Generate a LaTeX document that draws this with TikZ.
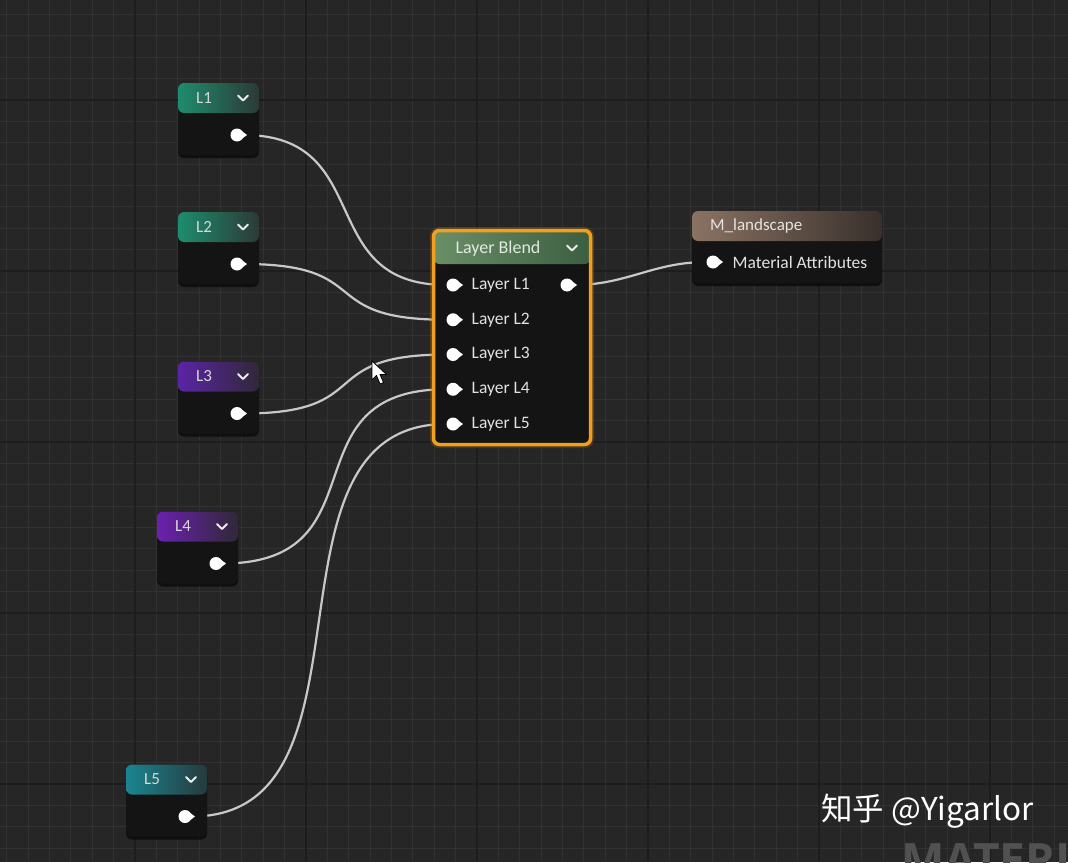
\documentclass[tikz,border=0pt]{standalone}
\usepackage{fontspec}
\setmainfont{Carlito}
\newfontfamily\cjkfont{Noto Sans CJK SC}
\newfontfamily\wmfont{Open Sans}
\usepackage{tikz}
\usetikzlibrary{positioning,calc,shadows}
\definecolor{canvas}{HTML}{262626}
\definecolor{gridminor}{HTML}{313131}
\definecolor{gridmajor}{HTML}{1D1D1D}
\definecolor{body}{HTML}{141414}
\definecolor{tealA}{HTML}{1E8C6E}
\definecolor{tealB}{HTML}{2B3A36}
\definecolor{purpA}{HTML}{5B24A6}
\definecolor{purpB}{HTML}{302838}
\definecolor{cyanA}{HTML}{1A8590}
\definecolor{cyanB}{HTML}{263A3C}
\definecolor{blendA}{HTML}{6A8F66}
\definecolor{blendB}{HTML}{3C5E41}
\definecolor{matA}{HTML}{8A7363}
\definecolor{matB}{HTML}{38302C}
\definecolor{selorange}{HTML}{F0A020}
\definecolor{wirecol}{HTML}{C8C8C8}
\definecolor{labelcol}{HTML}{E2E2E2}

\pgfdeclarelayer{grid}
\pgfdeclarelayer{wires}
\pgfsetlayers{grid,wires,main}

\tikzset{
  box/.style={rounded corners=6pt, fill=body, inner sep=0pt, outer sep=0pt,
    drop shadow={shadow xshift=0pt, shadow yshift=-3pt, opacity=0.6, fill=black}},
  leaf/.style={box, minimum width=81pt, minimum height=72pt},
  hdr/.style 2 args={path picture={\shade[left color=#1, right color=#2]
    (path picture bounding box.north west) rectangle ([yshift=-30pt]path picture bounding box.north east);}},
  htext/.style={text=labelcol!90!gray, font=\fontsize{17}{20}\selectfont, inner sep=2pt},
  plabel/.style={text=labelcol, font=\fontsize{17.5}{20}\selectfont, inner sep=2pt, anchor=west},
  pin/.style={circle, fill=white, minimum size=13pt, inner sep=0pt, outer sep=0pt},
  chev/.style={draw=white!85!gray, line width=2pt, line cap=round, line join=round},
  wire/.style={draw=wirecol, line width=2.2pt},
  minor/.style={draw=gridminor, line width=1.2pt},
  major/.style={draw=gridmajor, line width=1.6pt},
}

\begin{document}
\begin{tikzpicture}[x=1pt, y=-1pt]
  \useasboundingbox (0,0) rectangle (1068,862);

  % canvas grid
  \begin{pgfonlayer}{grid}
    \fill[canvas] (0,0) rectangle (1068,862);
    \foreach \i in {0,...,49} \draw[minor] ({6.75+21.375*\i},0) -- ++(0,862);
    \foreach \i in {0,...,40} \draw[minor] (0,{14.5+21.375*\i}) -- ++(1068,0);
    \foreach \x in {135,306,477,648,819,990} \draw[major] (\x,0) -- ++(0,862);
    \foreach \y in {100,271,442,613,784} \draw[major] (0,\y) -- ++(1068,0);
    \node[anchor=north west, inner sep=0pt, text=white!20!canvas,
      font=\wmfont\bfseries\fontsize{46}{46}\selectfont] (matwm) at (901,843) {MATERIAL};
  \end{pgfonlayer}

  % layer parameters
  \node[leaf, hdr={tealA}{tealB}] (L1) at (218.5,119) {};
  \node[leaf, hdr={tealA}{tealB}] (L2) at (218.5,248) {};
  \node[leaf, hdr={purpA}{purpB}] (L3) at (218.5,397.5) {};
  \node[leaf, hdr={purpA!90!magenta}{purpB}] (L4) at (197.5,547.5) {};
  \node[leaf, hdr={cyanA}{cyanB}] (L5) at (166.5,800.5) {};

  \foreach \n in {L1,L2,L3,L4,L5} {
    \node[htext] (\n t) at ($(\n.north west)+(26,15)$) {\n};
    \draw[chev] ($(\n.north east)+(-21,12.5)$) -- ++(5,5) -- ++(5,-5);
    \node[pin] (\n p) at ($(\n.north east)+(-22,52)$) {};
  }

  % layer blend
  \node[box, minimum width=157pt, minimum height=214pt,
    preaction={draw=selorange!70!black, line width=7pt, opacity=0.35},
    draw=selorange, line width=3.5pt,
    path picture={\shade[left color=blendA, right color=blendB]
      (path picture bounding box.north west) rectangle ([yshift=-33.5pt]path picture bounding box.north east);}]
    (LB) at (512,337.5) {};
  \node[htext, text=white!80!blendA, font=\fontsize{18}{20}\selectfont] (LBt) at ($(LB.north)+(-14,18.5)$) {Layer Blend};
  \draw[chev] ($(LB.north east)+(-23.5,15)$) -- ++(5,5) -- ++(5,-5);
  \foreach \i in {1,...,5} {
    \node[pin] (LBi\i) at ($(LB.north west)+(19.5,{19.75+34.75*\i})$) {};
    \node[plabel, right=10pt of LBi\i] (LBl\i) {Layer L\i};
  }
  \node[pin] (LBo) at ($(LB.north east)+(-23.5,54.5)$) {};

  % material output
  \node[box, minimum width=190pt, minimum height=72pt, hdr={matA}{matB}] (ML) at (787,247) {};
  \node[htext, anchor=west, text=white!80!matA] (MLt) at ($(ML.north west)+(16,15)$) {M\_landscape};
  \node[pin] (MLi) at ($(ML.north west)+(21,51)$) {};
  \node[plabel, right=11pt of MLi] (MLl) {Material Attributes};

  % pin tips
  \foreach \p in {L1p,L2p,L3p,L4p,L5p,LBi1,LBi2,LBi3,LBi4,LBi5,LBo,MLi}
    \fill[white] ($(\p.center)+(4,-4.5)$) -- ++(6,4.5) -- ++(-6,4.5) -- cycle;

  % wires
  \begin{pgfonlayer}{wires}
    \draw[wire] (L1p) .. controls +(140,0) and +(-140,0) .. (LBi1);
    \draw[wire] (L2p) .. controls +(140,0) and +(-140,0) .. (LBi2);
    \draw[wire] (L3p) .. controls +(140,0) and +(-140,0) .. (LBi3);
    \draw[wire] (L4p) .. controls +(170,0) and +(-170,0) .. (LBi4);
    \draw[wire] (L5p) .. controls +(205,0) and +(-205,0) .. (LBi5);
    \draw[wire] (LBo) .. controls +(60,0) and +(-60,0) .. (MLi);
  \end{pgfonlayer}

  % mouse cursor
  \filldraw[fill=white, draw=black, line width=0.8pt, line join=round]
    (372,361) -- (372,380) -- (376.5,375.5) -- (380,384) -- (383.5,382.5) -- (380,374.5) -- (386.5,374.5) -- cycle;

  % watermark
  \node[anchor=west, inner sep=0pt, text=white, font=\cjkfont\fontsize{31.5}{36}\selectfont] (zhwm) at (821,811) {知乎 @Yigarlor};
\end{tikzpicture}
\end{document}
